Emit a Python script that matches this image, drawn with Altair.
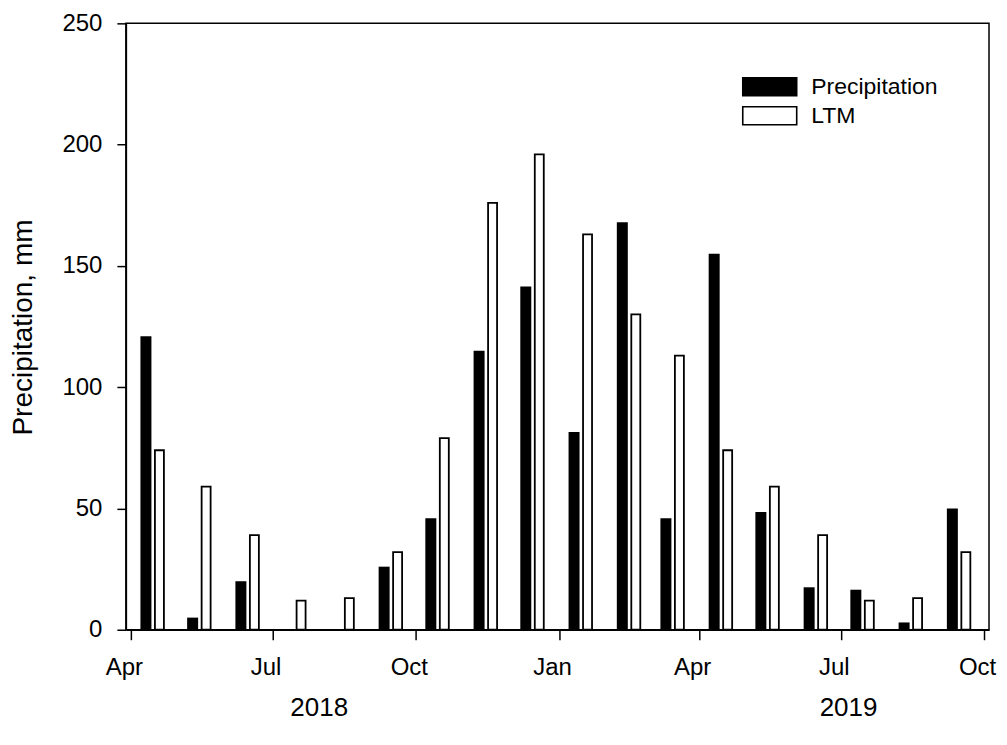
import altair as alt
import pandas as pd

months = ["2018-04", "2018-05", "2018-06", "2018-07", "2018-08", "2018-09",
          "2018-10", "2018-11", "2018-12", "2019-01", "2019-02", "2019-03",
          "2019-04", "2019-05", "2019-06", "2019-07", "2019-08", "2019-09"]
precip = [121, 5, 20, 0, 0, 26, 46, 115, 141.5, 81.5, 168, 46,
          155, 48.5, 17.5, 16.5, 3, 50]
ltm = [74, 59, 39, 12, 13, 32, 79, 176, 196, 163, 130, 113,
       74, 59, 39, 12, 13, 32]
series = ["Precipitation", "LTM"]
years = ["2018", "2019"]
year_pos = ["2018-07-31", "2019-07-06"]

rows = []
for m, p, l in zip(months, precip, ltm):
    rows.append({"date": m + "-15", "series": "Precipitation", "value": p})
    rows.append({"date": m + "-15", "series": "LTM", "value": l})
df = pd.DataFrame(rows)
ydf = pd.DataFrame({"date": year_pos, "label": years})

FONT = "Liberation Sans"

xscale = alt.Scale(type="utc",
                   domain=[alt.DateTime(year=2018, month=4, date=1, utc=True),
                           alt.DateTime(year=2019, month=10, date=1, utc=True)])
tick_vals = [alt.DateTime(year=y, month=m, date=1, utc=True)
             for y, m in [(2018, 4), (2018, 7), (2018, 10), (2019, 1),
                          (2019, 4), (2019, 7), (2019, 10)]]

x_enc = alt.X("date:T", scale=xscale,
              axis=alt.Axis(values=tick_vals,
                            labelExpr="utcFormat(datum.value, '%b')",
                            title=None, labelPadding=16, tickSize=10,
                            labelFontSize=24, labelOffset=-7,
                            labelOverlap=False, labelBound=False, labelFlush=False))
y_enc = alt.Y("value:Q", scale=alt.Scale(domain=[0, 250], nice=False),
              axis=alt.Axis(values=[0, 50, 100, 150, 200, 250],
                            title="Precipitation, mm", titleFontSize=28,
                            titleFontWeight="normal", titleFont=FONT,
                            titleX=-102, titleY=304, titleAngle=270,
                            titleAlign="center", titleBaseline="middle",
                            labelFontSize=24,
                            labelPadding=15, tickSize=9))

fill_enc = alt.Fill("series:N",
                    scale=alt.Scale(domain=series, range=["black", "white"]),
                    legend=alt.Legend(title=None, orient="none",
                                      legendX=633, legendY=52,
                                      symbolType="M-3,-1H3V1H-3Z",
                                      symbolSize=324,
                                      symbolStrokeColor="black",
                                      symbolStrokeWidth=1.6,
                                      symbolOpacity=1,
                                      labelFont=FONT, labelFontSize=23,
                                      labelColor="black",
                                      labelOffset=30, rowPadding=4,
                                      padding=0))

precip_layer = alt.Chart(df).transform_filter(
    alt.datum.series == "Precipitation"
).mark_bar(width=11, xOffset=-6.75, opacity=1).encode(
    x=x_enc, y=y_enc, fill=fill_enc
)

ltm_layer = alt.Chart(df).transform_filter(
    alt.datum.series == "LTM"
).mark_bar(width=9, xOffset=6.75, stroke="black", strokeWidth=1.8, opacity=1).encode(
    x=x_enc, y=y_enc, fill=fill_enc
)

year_layer = alt.Chart(ydf).mark_text(
    font=FONT, fontSize=26, color="black", baseline="middle", align="center"
).encode(
    x=alt.X("date:T", scale=xscale),
    y=alt.value(685),
    text="label:N"
)

chart = alt.layer(precip_layer, ltm_layer, year_layer).properties(
    width=864, height=607,
    autosize=alt.AutoSizeParams(type="none"),
    padding={"left": 118, "top": 15, "right": 10, "bottom": 100},
    background="white"
).configure_view(
    stroke="black", strokeWidth=1.5
).configure_axis(
    grid=False, domainColor="black", domainWidth=1.5,
    tickColor="black", tickWidth=1.5,
    labelFont=FONT, labelFontSize=24, labelColor="black",
    titleColor="black"
)

chart.save("out.html", embed_options={"renderer": "svg", "actions": False})
